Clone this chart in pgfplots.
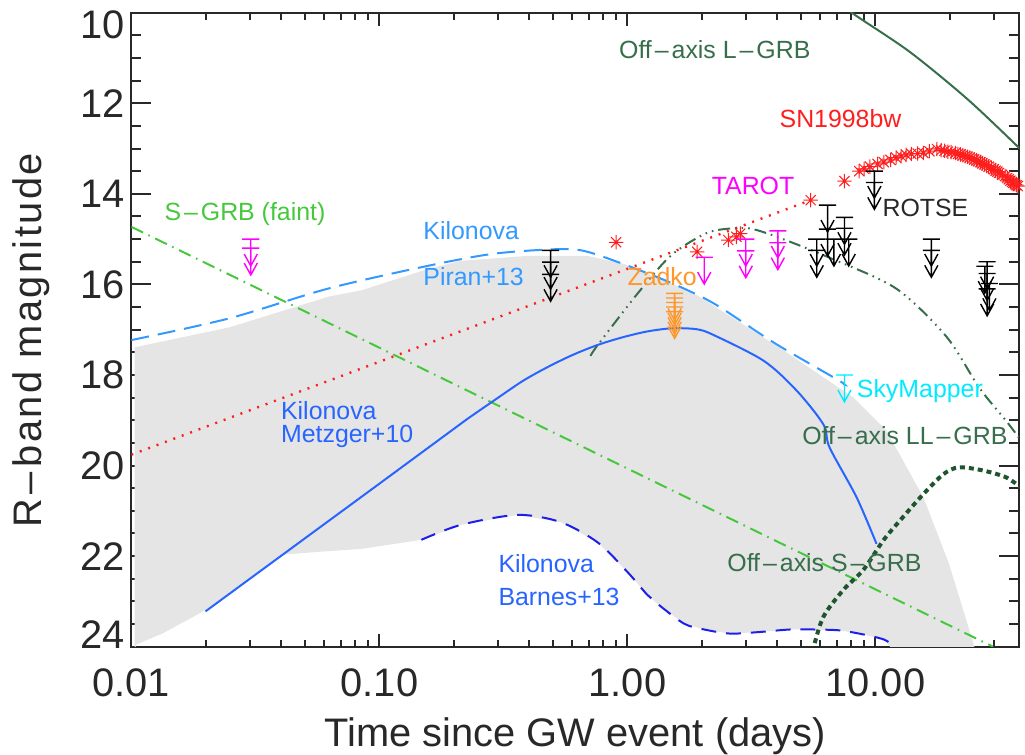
\documentclass[border=0pt]{standalone}
\usepackage{fontspec}
\setmainfont{Liberation Sans}
\usepackage{pgfplots}
\pgfplotsset{compat=1.18}

\definecolor{piran}{RGB}{51,153,255}
\definecolor{metz}{RGB}{40,100,255}
\definecolor{barnes}{RGB}{30,30,235}
\definecolor{sgrb}{RGB}{70,200,60}
\definecolor{offax}{RGB}{55,110,75}
\definecolor{offdark}{RGB}{30,85,45}
\definecolor{snred}{RGB}{255,30,30}
\definecolor{tarot}{RGB}{255,0,255}
\definecolor{zadko}{RGB}{255,150,40}
\definecolor{skym}{RGB}{0,235,255}
\definecolor{band}{RGB}{229,229,229}
\definecolor{ink}{RGB}{40,40,40}

% upper limit: bar at the limit, arrow pointing to fainter magnitudes
\pgfdeclareplotmark{ulim}{%
  \pgfpathmoveto{\pgfqpoint{-4.3pt}{0pt}}\pgfpathlineto{\pgfqpoint{4.3pt}{0pt}}%
  \pgfpathmoveto{\pgfqpoint{0pt}{0pt}}\pgfpathlineto{\pgfqpoint{0pt}{-13.5pt}}%
  \pgfpathmoveto{\pgfqpoint{-3.3pt}{-7.5pt}}\pgfpathlineto{\pgfqpoint{0pt}{-13.5pt}}%
  \pgfpathlineto{\pgfqpoint{3.3pt}{-7.5pt}}%
  \pgfusepathqstroke}
% eight-armed asterisk
\pgfdeclareplotmark{ast8}{%
  \pgfpathmoveto{\pgfqpoint{-\pgfplotmarksize}{0pt}}\pgfpathlineto{\pgfqpoint{\pgfplotmarksize}{0pt}}%
  \pgfpathmoveto{\pgfqpoint{0pt}{-\pgfplotmarksize}}\pgfpathlineto{\pgfqpoint{0pt}{\pgfplotmarksize}}%
  \pgfpathmoveto{\pgfqpoint{-0.707\pgfplotmarksize}{-0.707\pgfplotmarksize}}%
  \pgfpathlineto{\pgfqpoint{0.707\pgfplotmarksize}{0.707\pgfplotmarksize}}%
  \pgfpathmoveto{\pgfqpoint{-0.707\pgfplotmarksize}{0.707\pgfplotmarksize}}%
  \pgfpathlineto{\pgfqpoint{0.707\pgfplotmarksize}{-0.707\pgfplotmarksize}}%
  \pgfusepathqstroke}

\newcommand{\annot}{\fontsize{12.5}{15}\selectfont}
\newcommand{\dash}{\kern0.12em--\kern0.12em}

\begin{document}
\begin{tikzpicture}
\begin{axis}[
  scale only axis, width=446pt, height=318.5pt,
  xmode=log, xmin=0.01, xmax=38,
  ymin=10, ymax=24, y dir=reverse,
  xtick={0.01,0.1,1,10}, xticklabels={0.01,0.10,1.00,10.00},
  minor xtick={0.02,0.03,0.04,0.05,0.06,0.07,0.08,0.09,
               0.2,0.3,0.4,0.5,0.6,0.7,0.8,0.9,
               2,3,4,5,6,7,8,9,20,30},
  ytick={10,12,14,16,18,20,22,24},
  yticklabels={\raisebox{-13.15pt}[0pt][0pt]{10},12,14,16,18,20,22,\raisebox{-1.15pt}[0pt][0pt]{24}},
  minor y tick num=3,
  axis line style={ink, line width=1pt},
  tick style={ink, line width=1pt},
  major tick length=10pt, minor tick length=5pt,
  x tick style={/pgfplots/major tick length=6.5pt,/pgfplots/minor tick length=3.5pt},
  tick label style={font=\fontsize{20}{24}\selectfont, text=ink},
  xticklabel style={yshift=-7.5pt},
  label style={font=\fontsize{20}{24}\selectfont, text=ink, inner sep=0pt},
  xlabel={Time since GW event (days)},
  ylabel={\addfontfeature{LetterSpace=6}R\dash band magnitude},
  xlabel style={at={(axis description cs:0.5,-0.157)}, anchor=base},
  ylabel style={at={(axis description cs:-0.1009,0.483)}, anchor=base},
]

% kilonova band
\addplot[fill=band, draw=none] coordinates {
 (0.0103,17.39) (0.0248,16.95) (0.0624,16.27) (0.0847,16.13) (0.157,15.66)
 (0.213,15.48) (0.396,15.37) (0.69,15.37) (0.97,15.55) (1.41,15.91)
 (1.91,16.24) (4.11,17.40) (8.16,18.50) (11.07,19.23) (15.6,20.70)
 (19.8,22.17) (24.8,23.92) (25.3,24.08) (11.8,24.08)
 (10.8,23.84) (8.95,23.73) (7.17,23.64) (5.64,23.62) (4.52,23.62)
 (3.33,23.68) (2.59,23.71) (2.04,23.62) (1.69,23.49) (1.32,23.05)
 (1.2,22.85) (1.0,22.35) (0.76,21.7) (0.538,21.25) (0.361,21.09)
 (0.213,21.31) (0.1476,21.64) (0.0847,21.84) (0.0553,21.91) (0.0404,21.97)
 (0.0272,22.67) (0.0200,23.18) (0.01876,23.27) (0.01332,23.71)
 (0.01047,23.95) (0.0103,24.08)
} -- cycle;

% S-GRB (faint)
\addplot[sgrb, line width=1pt, dash pattern=on 6.5pt off 3pt on 0.8pt off 3pt]
 coordinates {(0.01,14.73) (29.8,24.0)};

% SN1998bw extrapolation
\addplot[snred, line width=1.2pt, dash pattern=on 1pt off 3.5pt]
 coordinates {(0.01,19.76) (5.48,14.14)};

% Kilonova, Piran+13
\addplot[piran, line width=1pt, dash pattern=on 9pt off 4.5pt, smooth] coordinates {
 (0.01,17.23) (0.0248,16.75) (0.0624,16.09) (0.157,15.59) (0.292,15.32)
 (0.538,15.22) (0.69,15.28) (1.04,15.62) (1.55,16.0) (2.26,16.44)
 (3.93,17.3) (7.16,18.13) (7.4,18.2)};

% Kilonova, Metzger+10: power-law rise, then the turnover
\addplot[metz, line width=1pt] coordinates {
 (0.0199,23.22) (0.05,21.61) (0.1,20.40) (0.2276,18.96)};
\addplot[metz, line width=1pt, smooth] coordinates {
 (0.2276,18.96) (0.3013,18.50) (0.379,18.13)
 (0.475,17.83) (0.600,17.56) (0.756,17.34) (0.953,17.17) (1.20,17.04)
 (1.51,16.97) (1.90,16.99) (2.23,17.12) (3.55,17.69) (4.82,18.35)
 (6.18,19.10) (6.53,19.60) (8.39,20.70) (10.1,21.73)};

% Kilonova, Barnes+13
\addplot[barnes, line width=1pt, dash pattern=on 7.5pt off 5pt, smooth] coordinates {
 (0.1476,21.64) (0.213,21.31) (0.361,21.09) (0.538,21.25) (0.76,21.7)
 (1.0,22.35) (1.2,22.85) (1.32,23.05) (1.69,23.49) (2.04,23.62)
 (2.59,23.71) (3.33,23.68) (4.52,23.62) (5.64,23.62) (7.17,23.64)
 (8.95,23.73) (10.8,23.84) (11.8,23.97)};

% Off-axis L-GRB
\addplot[offax, line width=1pt, smooth] coordinates {
 (7.5,9.8) (8.02,10.0) (13.7,10.86) (23.6,11.92) (38.5,13.02)};

% Off-axis LL-GRB
\addplot[offax, line width=1pt, smooth,
 dash pattern=on 6pt off 2.5pt on 0.8pt off 2.5pt on 0.8pt off 2.5pt on 0.8pt off 2.5pt]
 coordinates {
 (0.71,17.58) (0.759,17.34) (1.107,16.18) (1.50,15.36) (2.06,14.88)
 (2.55,14.77) (3.15,14.77) (4.19,14.99) (6.65,15.43) (12.1,16.09)
 (19.3,17.15) (26.2,18.28) (33.6,19.01) (37.8,19.38)};

% Off-axis S-GRB
\addplot[offdark, line width=2pt, dash pattern=on 2.5pt off 2pt, smooth] coordinates {
 (5.4,24.5) (5.64,24.0) (6.18,23.33) (7.44,22.74) (8.95,22.30) (10.8,21.64)
 (12.9,21.14) (15.6,20.63) (18.8,20.19) (21.7,20.04) (27.2,20.11)
 (33.6,20.26) (38.5,20.48)};

% SN1998bw light curve
\addplot[only marks, mark=ast8, mark size=3.6pt, snred, mark options={line width=0.5pt}]
 coordinates {
 (0.90,15.07) (1.91,15.28) (2.55,15.02) (2.75,14.95) (2.85,14.88) (5.48,14.14)
 (7.5,13.72) (8.6,13.50) (9.0,13.45) (9.5,13.40) (10.2,13.34) (10.8,13.30)
 (11.5,13.25) (12.1,13.20) (12.7,13.17) (13.3,13.14) (13.95,13.12) (14.8,13.11)
 (15.6,13.10) (16.5,13.06) (17.7,13.01) (18.4,13.04) (19.0,13.05) (19.6,13.07)
 (20.2,13.08) (21.0,13.10) (21.5,13.12) (22.0,13.13) (22.5,13.15) (23.0,13.17)
 (23.5,13.18) (24.0,13.20) (24.5,13.22) (25.0,13.24) (25.5,13.26) (25.9,13.28)
 (26.5,13.30) (27.0,13.33) (27.5,13.35) (28.0,13.37) (28.6,13.40) (29.3,13.43)
 (30.0,13.46) (30.5,13.49) (31.0,13.51) (31.5,13.54) (32.4,13.58) (33.3,13.61)
 (34.0,13.65) (34.5,13.68) (35.0,13.71) (35.5,13.74) (36.0,13.76) (36.5,13.79)
 (37.0,13.81) (37.5,13.83)};

% upper limits
\addplot[only marks, mark=ulim, tarot, line width=0.7pt] coordinates {
 (0.0303,15.0) (0.0303,15.2) (2.04,15.4) (3.0,15.0) (3.0,15.26)
 (4.04,14.82) (4.04,15.08)};
\addplot[only marks, mark=ulim, zadko, line width=0.7pt] coordinates {
 (1.55,16.2) (1.55,16.3) (1.55,16.4) (1.55,16.5) (1.55,16.6)};
\addplot[only marks, mark=ulim, black, line width=0.7pt] coordinates {
 (0.49,15.25) (0.49,15.51) (0.49,15.78)
 (5.8,15.0) (5.8,15.25) (6.41,14.25) (6.41,14.78) (6.8,15.0)
 (7.5,14.52) (7.5,14.76) (7.8,15.0) (9.9,13.5) (9.9,13.75)
 (16.8,15.0) (16.8,15.25)
 (27.6,15.6) (28.2,15.5) (28.2,15.76) (28.8,15.98) (28.2,16.1)};
\addplot[only marks, mark=ulim, skym, line width=0.7pt] coordinates {(7.5,18.0)};

% labels
\node[offax, font=\annot] at (axis cs:2.25,10.82) {Off\dash axis L\dash GRB};
\node[snred, font=\annot] at (axis cs:7.23,12.33) {SN1998bw};
\node[tarot, font=\annot] at (axis cs:3.21,13.83) {TAROT};
\node[ink, font=\annot] at (axis cs:15.9,14.31) {ROTSE};
\node[sgrb, font=\annot] at (axis cs:0.0287,14.45) {S\dash GRB (faint)};
\node[piran, font=\annot, anchor=west, inner sep=0pt] at (axis cs:0.150,14.82) {Kilonova};
\node[piran, font=\annot, anchor=west, inner sep=0pt] at (axis cs:0.150,15.82) {Piran+13};
\node[zadko, font=\annot] at (axis cs:1.38,15.82) {Zadko};
\node[skym, font=\annot, anchor=west, inner sep=0pt] at (axis cs:8.39,18.35) {SkyMapper};
\node[metz, font=\annot, anchor=west, inner sep=0pt] at (axis cs:0.0400,18.78) {Kilonova};
\node[metz, font=\annot, anchor=west, inner sep=0pt] at (axis cs:0.0400,19.36) {Metzger+10};
\node[offax, font=\annot, anchor=west, inner sep=0pt] at (axis cs:5.05,19.34) {Off\dash axis LL\dash GRB};
\node[metz, font=\annot, anchor=west, inner sep=0pt] at (axis cs:0.301,22.17) {Kilonova};
\node[metz, font=\annot, anchor=west, inner sep=0pt] at (axis cs:0.301,22.89) {Barnes+13};
\node[offax, font=\annot, anchor=west, inner sep=0pt] at (axis cs:2.52,22.15) {Off\dash axis S\dash GRB};
\end{axis}
\path ([xshift=-66pt,yshift=6.35pt]current axis.north west);
\end{tikzpicture}
\end{document}
